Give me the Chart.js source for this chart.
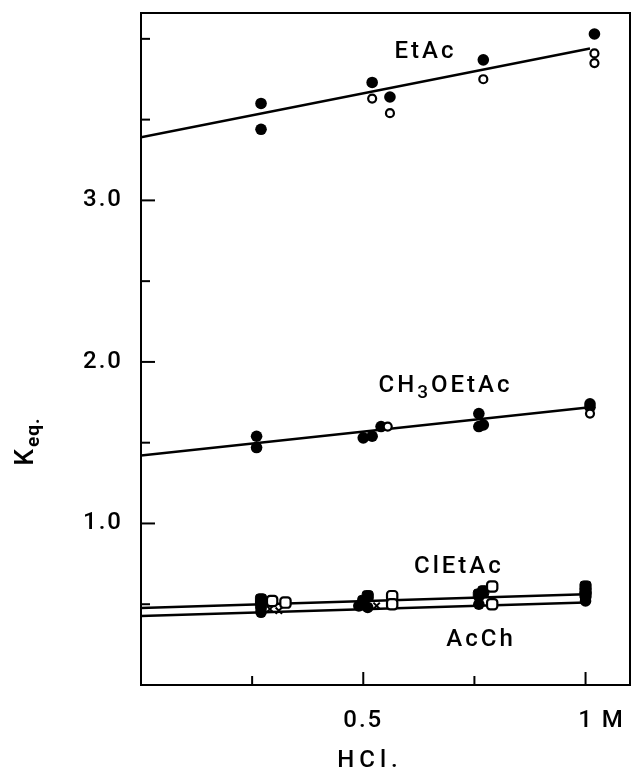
<!DOCTYPE html>
<html>
<head>
<meta charset="utf-8">
<script src="https://cdn.jsdelivr.net/npm/chart.js@4.4.1/dist/chart.umd.min.js"></script>
<style>
  html, body { margin: 0; padding: 0; background: #fff; }
  canvas { display: block; }
</style>
</head>
<body>
<canvas id="kChart" width="633" height="774"></canvas>
<script>
// HCl (M) vs K_eq
const etacFilledX = [0.27, 0.27, 0.52, 0.56, 0.77, 1.02];
const etacFilledY = [3.60, 3.44, 3.73, 3.64, 3.87, 4.03];
const etacOpenX = [0.52, 0.56, 0.77, 1.02, 1.02];
const etacOpenY = [3.63, 3.54, 3.75, 3.91, 3.85];

const ch3FilledX = [0.26, 0.26, 0.50, 0.52, 0.54, 0.76, 0.76, 0.77, 1.01, 1.01];
const ch3FilledY = [1.54, 1.47, 1.53, 1.54, 1.60, 1.68, 1.60, 1.61, 1.74, 1.72];
const ch3OpenX = [0.555, 1.01];
const ch3OpenY = [1.60, 1.68];

const clFilledX = [0.27, 0.27, 0.50, 0.51, 0.76, 0.77, 1.0, 1.0, 1.0];
const clFilledY = [0.53, 0.50, 0.52, 0.55, 0.56, 0.58, 0.61, 0.58, 0.56];
const clOpenX = [0.295, 0.325, 0.565, 0.565, 0.79, 0.79];
const clOpenY = [0.52, 0.51, 0.55, 0.50, 0.61, 0.50];

const acFilledX = [0.27, 0.27, 0.49, 0.51, 0.76, 1.0, 1.0];
const acFilledY = [0.45, 0.47, 0.49, 0.48, 0.50, 0.52, 0.54];
const acCrossX = [0.29, 0.31, 0.53];
const acCrossY = [0.47, 0.46, 0.49];

// fitted straight lines (end points)
const etacFitX = [0, 1.01];
const etacFitY = [3.39, 3.94];
const ch3FitX = [0, 1.01];
const ch3FitY = [1.42, 1.72];
const clFitX = [0, 1.0];
const clFitY = [0.477, 0.562];
const acFitX = [0, 1.0];
const acFitY = [0.427, 0.51];

// axis ticks
const xTickValues = [0.25, 0.5, 0.75, 1.0];
const xTickLabels = ['', '0.5', '', '    1 M'];
const yTickValues = [0.5, 1.0, 1.5, 2.0, 2.5, 3.0, 3.5, 4.0];
const yTickLabels = ['', '1.0', '', '2.0', '', '3.0', '', ''];

const FONT = 'Roboto, "Liberation Sans", Arial, sans-serif';

function pts(xs, ys) {
    return xs.map((x, i) => ({ x: x, y: ys[i] }));
}

function fitLine(xs, ys) {
    return {
        data: pts(xs, ys), showLine: true, borderColor: '#000', borderWidth: 2.5,
        pointRadius: 0, order: 2
    };
}

function filledCircles(xs, ys) {
    return {
        data: pts(xs, ys), pointStyle: 'circle', pointRadius: 5.8,
        backgroundColor: '#000', borderColor: '#000', borderWidth: 0, order: 1
    };
}

function openCircles(xs, ys) {
    return {
        data: pts(xs, ys), pointStyle: 'circle', pointRadius: 4,
        backgroundColor: '#fff', borderColor: '#000', borderWidth: 2.2, order: 0
    };
}

function filledSquares(xs, ys) {
    return {
        data: pts(xs, ys), pointStyle: 'rectRounded', pointRadius: 6.5,
        backgroundColor: '#000', borderColor: '#000', borderWidth: 1, order: 1
    };
}

function openSquares(xs, ys) {
    return {
        data: pts(xs, ys), pointStyle: 'rectRounded', pointRadius: 6,
        backgroundColor: '#fff', borderColor: '#000', borderWidth: 2.2, order: 0
    };
}

// frame, inward ticks and the hand lettering
const decorations = {
    id: 'decorations',
    beforeDraw(chart) {
        chart.ctx.letterSpacing = '2px';
    },
    afterDraw(chart) {
        const ctx = chart.ctx;
        const a = chart.chartArea;
        const xs = chart.scales.x;
        const ys = chart.scales.y;
        ctx.save();
        ctx.strokeStyle = '#000';
        ctx.lineWidth = 2;
        ctx.strokeRect(a.left, a.top, a.right - a.left, a.bottom - a.top);

        yTickValues.forEach((v, i) => {
            const py = ys.getPixelForValue(v);
            const len = yTickLabels[i] ? 14 : 9;
            ctx.beginPath();
            ctx.moveTo(a.left, py);
            ctx.lineTo(a.left + len, py);
            ctx.stroke();
        });
        xTickValues.forEach((v, i) => {
            const px = xs.getPixelForValue(v);
            const len = xTickLabels[i] ? 13 : 9;
            ctx.beginPath();
            ctx.moveTo(px, a.bottom);
            ctx.lineTo(px, a.bottom - len);
            ctx.stroke();
        });

        ctx.fillStyle = '#000';
        ctx.textBaseline = 'middle';
        ctx.textAlign = 'center';
        ctx.letterSpacing = '3px';
        ctx.font = '500 24px ' + FONT;
        ctx.fillText('EtAc', xs.getPixelForValue(0.64), ys.getPixelForValue(3.92));
        ctx.fillText('ClEtAc', xs.getPixelForValue(0.715), ys.getPixelForValue(0.73));
        ctx.fillText('AcCh', xs.getPixelForValue(0.765), ys.getPixelForValue(0.28));

        // CH3OEtAc with subscript
        ctx.textAlign = 'left';
        const cx = xs.getPixelForValue(0.685);
        const cy = ys.getPixelForValue(1.85);
        const w1 = ctx.measureText('CH').width;
        ctx.font = '500 19px ' + FONT;
        const w2 = ctx.measureText('3').width;
        ctx.font = '500 24px ' + FONT;
        const w3 = ctx.measureText('OEtAc').width;
        let sx = cx - (w1 + w2 + w3) / 2;
        ctx.fillText('CH', sx, cy);
        ctx.font = '500 19px ' + FONT;
        ctx.fillText('3', sx + w1, cy + 7);
        ctx.font = '500 24px ' + FONT;
        ctx.fillText('OEtAc', sx + w1 + w2, cy);

        // x axis title
        ctx.textAlign = 'center';
        ctx.letterSpacing = '5px';
        ctx.fillText('HCl.', 370, 761);

        // y axis title, rotated, with subscript
        ctx.translate(28, 442);
        ctx.rotate(-Math.PI / 2);
        ctx.letterSpacing = '1px';
        ctx.textAlign = 'left';
        ctx.font = '500 26px ' + FONT;
        const kw = ctx.measureText('K').width;
        ctx.font = 'bold 19px ' + FONT;
        const ew = ctx.measureText('eq.').width;
        const start = -(kw + ew) / 2;
        ctx.font = '500 26px ' + FONT;
        ctx.fillText('K', start, -2);
        ctx.font = 'bold 19px ' + FONT;
        ctx.fillText('eq.', start + kw + 1, 6);
        ctx.restore();
    }
};

const ctx = document.getElementById('kChart').getContext('2d');
new Chart(ctx, {
    type: 'scatter',
    data: {
        datasets: [
            fitLine(etacFitX, etacFitY),
            fitLine(ch3FitX, ch3FitY),
            fitLine(clFitX, clFitY),
            fitLine(acFitX, acFitY),
            filledCircles(etacFilledX, etacFilledY),
            openCircles(etacOpenX, etacOpenY),
            filledCircles(ch3FilledX, ch3FilledY),
            openCircles(ch3OpenX, ch3OpenY),
            filledSquares(clFilledX, clFilledY),
            openSquares(clOpenX, clOpenY),
            filledCircles(acFilledX, acFilledY),
            {
                data: pts(acCrossX, acCrossY), pointStyle: 'crossRot', pointRadius: 4.5,
                borderColor: '#000', borderWidth: 2, order: 0
            }
        ]
    },
    options: {
        responsive: false,
        animation: false,
        layout: { autoPadding: false, padding: { top: 13, right: 3, left: 0, bottom: 0 } },
        plugins: { legend: { display: false }, tooltip: { enabled: false } },
        scales: {
            x: {
                type: 'linear', min: 0, max: 1.1,
                afterFit: (s) => { s.height = 89; s.paddingLeft = 0; s.paddingRight = 0; },
                afterBuildTicks: (s) => { s.ticks = xTickValues.map(v => ({ value: v })); },
                grid: { display: false, drawTicks: false },
                border: { display: false },
                ticks: {
                    padding: 22, color: '#000', font: { family: FONT, size: 24, weight: '500' },
                    maxRotation: 0, autoSkip: false,
                    callback: (v) => { const i = xTickValues.indexOf(v); return i >= 0 ? xTickLabels[i] : ''; }
                }
            },
            y: {
                type: 'linear', min: 0, max: 4.16,
                afterFit: (s) => { s.width = 141; s.paddingTop = 0; s.paddingBottom = 0; },
                afterBuildTicks: (s) => { s.ticks = yTickValues.map(v => ({ value: v })); },
                grid: { display: false, drawTicks: false },
                border: { display: false },
                ticks: {
                    padding: 18, color: '#000', font: { family: FONT, size: 24, weight: '500' },
                    autoSkip: false,
                    callback: (v) => { const i = yTickValues.indexOf(v); return i >= 0 ? yTickLabels[i] : ''; }
                }
            }
        }
    },
    plugins: [decorations]
});
</script>
</body>
</html>
